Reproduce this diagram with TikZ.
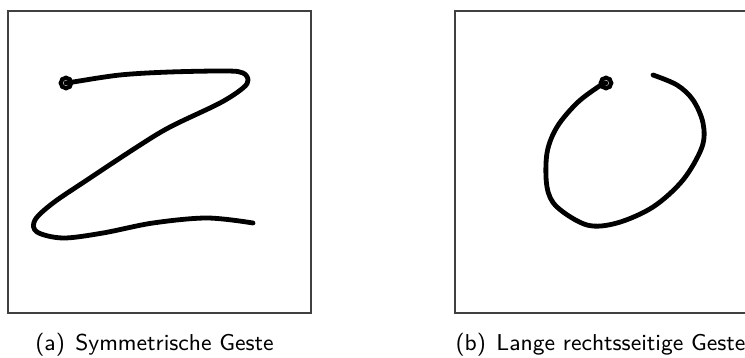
\documentclass[tikz,border=0pt]{standalone}
\begin{document}
\begin{tikzpicture}[x=1pt,y=-1pt,
  frame/.style={draw=black!75,line width=1.3pt},
  gesture/.style={line width=4.8pt,line cap=round,line join=round},
  startdot/.style={circle,draw,line width=4.2pt,inner sep=0pt,minimum size=10.5pt},
  captext/.style={font=\sffamily\fontsize{9}{11}\selectfont,scale=2.55,anchor=base,inner sep=0pt}]
\useasboundingbox (0,0) rectangle (745,358);
\clip (0,0) rectangle (745,358);
% frames
\node[frame,minimum width=303pt,minimum height=302pt,inner sep=0pt] (boxa) at (159.5,162) {};
\node[frame,minimum width=303pt,minimum height=302pt,inner sep=0pt] (boxb) at (606.5,162) {};
% gesture a
\draw[gesture] plot[smooth,tension=0.55] coordinates {
 (66,83) (73,82) (120,75) (170,72) (227,71) (243,73) (248,80) (243,88) (220,103)
 (170,127) (137,147) (87,180) (53,203) (35,220) (37,232) (63,238) (103,233)
 (153,223) (207,218) (253,223)};
\node[startdot] (sa) at (66,83) {};
% gesture b
\draw[gesture] plot[smooth,tension=0.55] coordinates {
 (606,83) (598,87) (577,103) (557,127) (547,153) (547,187) (557,207) (587,225)
 (617,223) (653,207) (683,180) (702,147) (703,123) (693,100) (677,85) (653,75)};
\node[startdot] (sb) at (606,83) {};
% captions
\node[captext] (capa) at (154.5,350) {(a)\hspace{0.45em}Symmetrische Geste};
\node[captext] (capb) at (600.5,350) {(b)\hspace{0.45em}Lange rechtsseitige Geste};
\end{tikzpicture}
\end{document}
